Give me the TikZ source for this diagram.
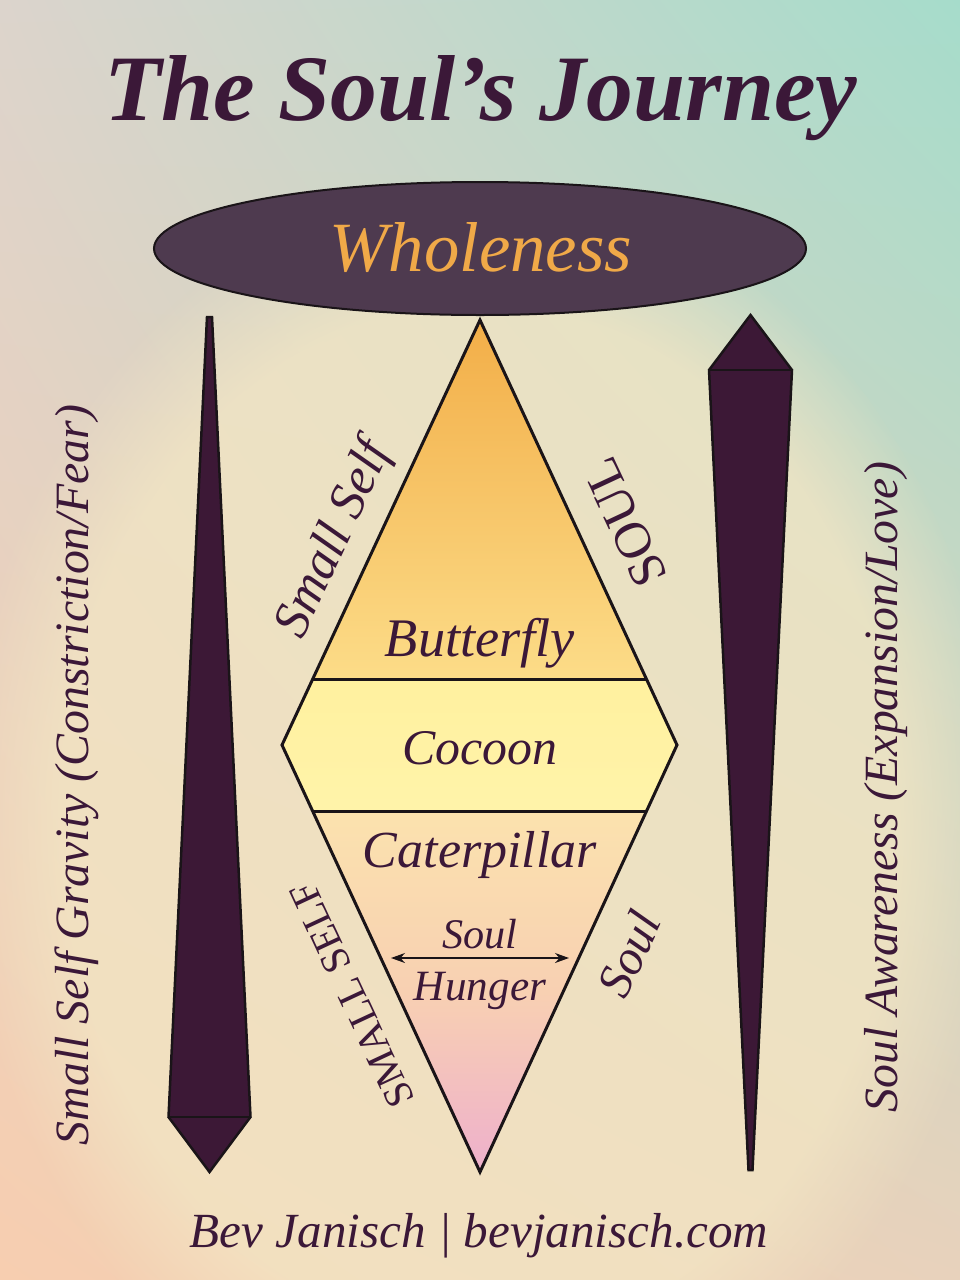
\documentclass[tikz,border=0pt]{standalone}
\usepackage{fontspec}
\setmainfont{Liberation Serif}
\usepackage{graphicx}
\usetikzlibrary{calc,fadings,shadings,arrows.meta}
\definecolor{ink}{HTML}{3B1838}
\definecolor{wholetxt}{HTML}{F0A948}
\definecolor{ellfill}{HTML}{4E3A4F}
\definecolor{spikefill}{HTML}{3C1836}
\definecolor{edge}{HTML}{1A1418}
\definecolor{bgul}{HTML}{DCD4CC}
\definecolor{bgur}{HTML}{A6DCCB}
\definecolor{bgll}{HTML}{F7CEB0}
\definecolor{bglr}{HTML}{E8D2BC}
\definecolor{bgmid}{HTML}{F3E6C4}
\definecolor{apexc}{HTML}{F2AE48}
\definecolor{butc}{HTML}{FCDC88}
\definecolor{cocc}{HTML}{FFF2A0}
\definecolor{catc}{HTML}{FBE2AE}
\definecolor{midc}{HTML}{F8D0B2}
\definecolor{pinkc}{HTML}{EEB0CC}
\newcommand{\fitw}[2]{\resizebox{#1pt}{!}{#2}}
\begin{document}
\begin{tikzpicture}[x=1pt,y=-1pt,
  txt/.style={text=ink,inner sep=0pt,font=\itshape},
  spike/.style={fill=spikefill,draw=edge,line width=2.5pt,line join=miter},
  outline/.style={draw=edge,line width=3pt,line join=miter}]
\useasboundingbox (0,0) rectangle (960,1280);
% background
\shade[upper left=bgul, upper right=bgur, lower left=bgll, lower right=bglr] (0,0) rectangle (960,1280);
\fill[bgmid, opacity=0.75, path fading=circle with fuzzy edge 20 percent] (480,820) ellipse (520 and 640);

% title
\node[txt, anchor=base, font=\bfseries\itshape] (title) at (481,120) {\fitw{753}{The Soul’s Journey}};

% ellipse
\draw[fill=ellfill, draw=edge, line width=2pt] (480,248.5) ellipse (326 and 66.5);
\node[inner sep=0pt, text=wholetxt, font=\itshape, anchor=base] (whole) at (481,271) {\fitw{302}{Wholeness}};

% diamond coordinates
\coordinate (top) at (480,320);
\coordinate (bot) at (480,1172);
\coordinate (lft) at (282,745);
\coordinate (rgt) at (677,745);
\coordinate (a1) at ($(top)!0.8447!(lft)$);
\coordinate (a2) at ($(top)!0.8447!(rgt)$);
\coordinate (b1) at ($(lft)!0.1546!(bot)$);
\coordinate (b2) at ($(rgt)!0.1546!(bot)$);

\shade[top color=apexc, bottom color=butc] (top) -- (a2) -- (a1) -- cycle;
\shade[top color=cocc!95!butc, bottom color=cocc!90!white] (a1) -- (a2) -- (rgt) -- (b2) -- (b1) -- (lft) -- cycle;
\shade[top color=catc, bottom color=pinkc, middle color=midc] (b1) -- (b2) -- (bot) -- cycle;
\draw[outline] (top) -- (rgt) -- (bot) -- (lft) -- cycle;
\draw[outline] (a1) -- (a2);
\draw[outline] (b1) -- (b2);

% spikes
\draw[spike] (207,317) -- (212,317) -- (250.5,1117) -- (209.5,1172) -- (168.5,1117) -- cycle;
\draw[edge, line width=2pt] (168.5,1117) -- (250.5,1117);
\draw[spike] (750.5,315) -- (792,370) -- (752.5,1170) -- (748.5,1170) -- (709,370) -- cycle;
\draw[edge, line width=2pt] (709,370) -- (792,370);

% stage labels
\node[txt, anchor=base] (butterfly) at (480,656) {\fitw{190}{Butterfly}};
\node[txt, anchor=base] (cocoon) at (480,764) {\fitw{155}{Cocoon}};
\node[txt, anchor=base] (caterpillar) at (480,867) {\fitw{234}{Caterpillar}};
\node[txt, anchor=base] (soulh) at (480,948) {\fitw{75}{Soul}};
\node[txt, anchor=base] (hunger) at (480,1000) {\fitw{132}{Hunger}};
\coordinate (hl) at (391,958);
\coordinate (hr) at (569,958);
\draw[{Stealth[length=14pt,width=10pt]}-{Stealth[length=14pt,width=10pt]}, line width=1.4pt, edge] (hl) -- (hr);

% edge labels
\node[txt, rotate=65] (smallself) at (335,540) {\fitw{210}{Small Self}};
\node[txt, rotate=115, font=\upshape] (soulcap) at (625,522) {\fitw{135}{SOUL}};
\node[txt, rotate=115, font=\upshape] (smallcap) at (352,995) {\fitw{243}{SMALL SELF}};
\node[txt, rotate=65] (soulbr) at (629,954) {\fitw{87}{Soul}};

% side labels
\node[txt, rotate=90] (lside) at (77,775) {\fitw{740}{Small Self Gravity (Constriction/Fear)}};
\node[txt, rotate=90] (rside) at (886,787) {\fitw{650}{Soul Awareness (Expansion/Love)}};

% footer
\node[txt, anchor=base] (footer) at (479,1247) {\fitw{578}{Bev Janisch | bevjanisch.com}};
\end{tikzpicture}
\end{document}
